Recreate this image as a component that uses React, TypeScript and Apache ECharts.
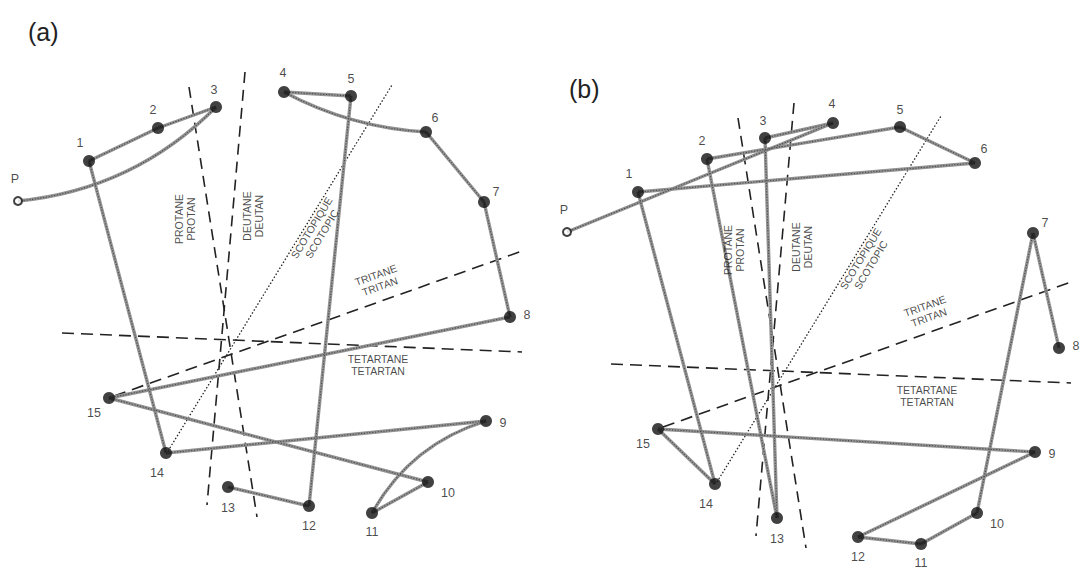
import React, { useEffect, useRef } from "react";
import * as echarts from "echarts";

// Cap positions on the (shared) D-15 diagram, in diagram units
const CAPS = ["P", "1", "2", "3", "4", "5", "6", "7", "8", "9", "10", "11", "12", "13", "14", "15"];
const CAP_X = [18, 89, 158, 216, 284, 351, 426, 484, 510, 486, 428, 372, 309, 228, 166, 109];
const CAP_Y = [201, 161, 128, 107, 92, 96, 132, 202, 317, 421, 482, 513, 506, 487, 453, 398];

// Arrangement order chosen by each subject
const ORDER_A = ["P", "3", "2", "1", "14", "9", "11", "10", "15", "8", "7", "6", "4", "5", "12", "13"];
const ORDER_B = ["P", "4", "3", "13", "2", "5", "6", "1", "14", "15", "9", "12", "11", "10", "7", "8"];

// Confusion axes
const AXIS_TEXT = ["PROTANE\nPROTAN", "DEUTANE\nDEUTAN", "SCOTOPIQUE\nSCOTOPIC", "TRITANE\nTRITAN", "TETARTANE\nTETARTAN"];
const AXIS_FROM_X = [189, 245, 168, 114, 62];
const AXIS_FROM_Y = [87, 72, 451, 396, 333];
const AXIS_TO_X = [257, 207, 392, 525, 522];
const AXIS_TO_Y = [517, 505, 85, 250, 352];

// Layout (not data)
const AXIS_LABEL_POS = [[185, 219], [253, 216], [317, 231], [378, 281], [378, 365]];
const AXIS_LABEL_ROT = [90, 90, 58.7, 19.6, 0];
const AXIS_DASH: any[] = [[11, 7], [11, 7], [1.5, 2], [12, 7], [12, 7]];
const CAP_LABEL_OFFSET = [
  [-3, -22], [-9, -18], [-5, -18], [-2, -17], [-1, -19], [0, -17], [9, -14], [12, -10],
  [17, -2], [17, 2], [20, 11], [0, 19], [0, 20], [0, 21], [-9, 20], [-15, 15],
];
const CURVE_A: Record<string, number> = { "P-3": -0.18, "9-11": -0.2, "6-4": 0.11 };
const CURVE_B: Record<string, number> = {};

const FONT = "'Liberation Sans', Arial, sans-serif";
const SIZE = 538;

function capXY(name: string): [number, number] {
  const i = CAPS.indexOf(name);
  return [CAP_X[i], CAP_Y[i]];
}

function panelSeries(g: number, order: string[], curves: Record<string, number>) {
  const segs = [] as any[];
  for (let i = 0; i < order.length - 1; i++) {
    const key = order[i] + "-" + order[i + 1];
    segs.push({
      coords: [capXY(order[i]), capXY(order[i + 1])],
      lineStyle: { curveness: curves[key] || 0 },
    });
  }
  const series: any[] = [];
  AXIS_TEXT.forEach((t, k) => {
    series.push({
      type: "lines",
      coordinateSystem: "cartesian2d",
      xAxisIndex: g,
      yAxisIndex: g,
      silent: true,
      z: 1,
      data: [{ coords: [[AXIS_FROM_X[k], AXIS_FROM_Y[k]], [AXIS_TO_X[k], AXIS_TO_Y[k]]] }],
      lineStyle: { color: "#222", width: k === 2 ? 1.3 : 1.6, type: AXIS_DASH[k], opacity: 1 },
    });
  });
  series.push({
    type: "scatter",
    xAxisIndex: g,
    yAxisIndex: g,
    symbolSize: 0,
    silent: true,
    z: 3,
    itemStyle: { color: "#222" },
    data: AXIS_TEXT.map((t, k) => ({
      value: AXIS_LABEL_POS[k],
      label: {
        show: true,
        position: "inside",
        formatter: t,
        rotate: AXIS_LABEL_ROT[k],
        fontFamily: FONT,
        fontSize: 10.5,
        lineHeight: 12,
        color: "#1a1a1a",
        textBorderWidth: 0,
        textBorderColor: "transparent",
        align: "center",
        verticalAlign: "middle",
      },
    })),
  });
  series.push({
    type: "lines",
    coordinateSystem: "cartesian2d",
    xAxisIndex: g,
    yAxisIndex: g,
    silent: true,
    z: 2,
    data: segs,
    lineStyle: { color: "#929292", width: 3.4, opacity: 1 },
  });
  series.push({
    type: "lines",
    coordinateSystem: "cartesian2d",
    xAxisIndex: g,
    yAxisIndex: g,
    silent: true,
    z: 2,
    data: segs,
    lineStyle: { color: "#4a4a4a", width: 1.1, type: [1.2, 1.6], opacity: 1 },
  });
  series.push({
    type: "scatter",
    xAxisIndex: g,
    yAxisIndex: g,
    silent: true,
    z: 4,
    itemStyle: { color: "#111" },
    data: CAPS.map((c, i) => ({
      value: [CAP_X[i], CAP_Y[i]],
      symbol: "circle",
      symbolSize: c === "P" ? 8 : 12,
      itemStyle:
        c === "P"
          ? { color: "#fff", borderColor: "#111", borderWidth: 2 }
          : { color: "#111" },
      label: {
        show: true,
        position: "inside",
        formatter: c,
        offset: CAP_LABEL_OFFSET[i],
        fontFamily: FONT,
        fontSize: 12.5,
        color: "#1a1a1a",
        textBorderWidth: 0,
        textBorderColor: "transparent",
      },
    })),
  });
  return series;
}

export default function App() {
  const ref = useRef<HTMLDivElement>(null);
  useEffect(() => {
    document.body.style.margin = "0";
    const chart = echarts.init(ref.current!, undefined, { renderer: "svg" });
    const axisBase = { type: "value", min: 0, max: SIZE, show: false };
    chart.setOption({
      animation: false,
      backgroundColor: "#fff",
      title: [
        { text: "(a)", left: 23, top: 14, textStyle: { fontFamily: FONT, fontSize: 25, fontWeight: "normal", color: "#222" } },
        { text: "(b)", left: 564, top: 71, textStyle: { fontFamily: FONT, fontSize: 25, fontWeight: "normal", color: "#222" } },
      ],
      grid: [
        { left: 0, top: 0, width: SIZE, height: SIZE },
        { left: 549, top: 31, width: SIZE, height: SIZE },
      ],
      xAxis: [
        { ...axisBase, gridIndex: 0 },
        { ...axisBase, gridIndex: 1 },
      ],
      yAxis: [
        { ...axisBase, gridIndex: 0, inverse: true },
        { ...axisBase, gridIndex: 1, inverse: true },
      ],
      series: [...panelSeries(0, ORDER_A, CURVE_A), ...panelSeries(1, ORDER_B, CURVE_B)],
    });
    return () => chart.dispose();
  }, []);
  return <div ref={ref} style={{ width: 1087, height: 569 }} />;
}
